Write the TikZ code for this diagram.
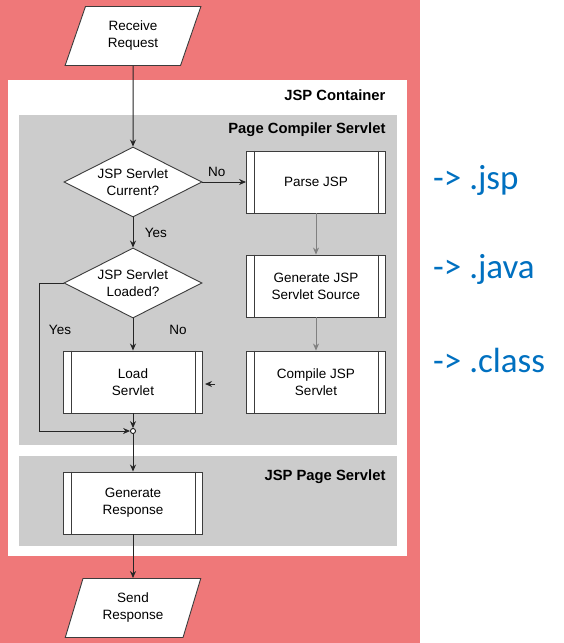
\documentclass[tikz,border=0pt]{standalone}
\usepackage{fontspec}
\setmainfont{Liberation Sans}
\newfontfamily\calibri{Carlito}
\usepackage{tikz}
\usetikzlibrary{arrows.meta}
\usetikzlibrary{shapes.geometric, positioning}

\definecolor{bgred}{RGB}{239,120,121}
\definecolor{lanegray}{RGB}{204,204,204}
\definecolor{linegray}{RGB}{60,60,60}
\definecolor{noteblue}{RGB}{0,112,192}

\tikzset{
	flowtext/.style={font=\fontsize{13.5}{17}\selectfont, align=center},
	iobox/.style={flowtext, draw=linegray, line width=0.9pt, fill=white, trapezium, trapezium left angle=70, trapezium right angle=110, trapezium stretches=true, minimum width=136pt, minimum height=59pt, inner sep=0pt},
	decision/.style={flowtext, draw=linegray, line width=0.9pt, fill=white, diamond, shape aspect=2, minimum width=138pt, minimum height=70pt, inner sep=0pt},
	procbox/.style={flowtext, draw=linegray, line width=0.9pt, fill=white, minimum width=139pt, minimum height=62pt, inner sep=0pt},
	lanetitle/.style={font=\fontsize{14.8}{18}\selectfont\bfseries, anchor=east},
	lbl/.style={font=\fontsize{13.5}{17}\selectfont},
	flow/.style={draw=black!85, line width=1pt, -{Stealth[length=7pt,width=6pt]}},
	thinflow/.style={draw=gray, line width=0.7pt, -{Stealth[length=7pt,width=6pt]}},
	note/.style={font=\calibri\fontsize{35}{40}\selectfont, text=noteblue, anchor=base west, inner sep=0pt}
}

\begin{document}
\begin{tikzpicture}[x=1pt, y=-1pt]
		\useasboundingbox (0,0) rectangle (563,643);
		% backgrounds and lanes
		\fill [bgred] (0,0) rectangle (420,643);
		\fill [white] (8,80) rectangle (407,556);
		\fill [lanegray] (19,115) rectangle (397,445);
		\fill [lanegray] (19,456) rectangle (397,546);
		\node[lanetitle] (contitle) at (389,95) {JSP Container};
		\node[lanetitle] (pcstitle) at (389,130) {Page Compiler Servlet};
		\node[lanetitle] (pagetitle) at (389,477) {JSP Page Servlet};

		% flow
		\node[iobox] (recv) at (133,36) {Receive\\Request};
		\node[decision] (cur) at (133,182) {JSP Servlet\\Current?};
		\node[decision] (loaded) at (133,283) {JSP Servlet\\Loaded?};
		\node[procbox] (load) at (133,382) {Load\\Servlet};
		\node[procbox] (parse) at (316,182) {Parse JSP};
		\node[procbox] (gensrc) at (316,286) {Generate JSP\\Servlet Source};
		\node[procbox] (compile) at (316,382) {Compile JSP\\Servlet};
		\node[circle, draw=black, line width=0.8pt, fill=white, inner sep=0pt, minimum size=5pt] (join) at (133,431) {};
		\node[procbox] (genresp) at (133,503) {Generate\\Response};
		\node[iobox] (send) at (133,608) {Send\\Response};
		\foreach \n in {load,parse,gensrc,compile,genresp}
			\draw [linegray, line width=0.9pt] ([xshift=8pt]\n.north west) -- ([xshift=8pt]\n.south west)
				([xshift=-8pt]\n.north east) -- ([xshift=-8pt]\n.south east);

		\draw[flow] (recv) -- (cur);
		\draw[flow, lbl] (cur) -- node[pos=0.33, above=2pt] {No} (parse);
		\draw[flow, lbl] (cur) -- node[midway, right=8pt] {Yes} (loaded);
		\draw[flow] (loaded) -- (load);
		\coordinate (yesbend) at (39,283);
		\draw[flow] (loaded.west) -- (yesbend) |- (join);
		\draw[flow] (load) -- (join);
		\draw[flow] (join) -- (genresp);
		\draw[flow] (genresp) -- (send);
		\draw[thinflow] (parse) -- (gensrc);
		\draw[thinflow] (gensrc) -- (compile);
		\coordinate (stray) at (215,384);
		\draw[flow] (stray) -- ++(-10,0);
		\node[lbl] (yeslbl) at (60,330) {Yes};
		\node[lbl] (nolbl) at (178,330) {No};

		% notes on the right
		\node[note] (jsp) at (433,189) {-> .jsp};
		\node[note] (java) at (433,278) {-> .java};
		\node[note] (class) at (433,372) {-> .class};
\end{tikzpicture}
\end{document}
